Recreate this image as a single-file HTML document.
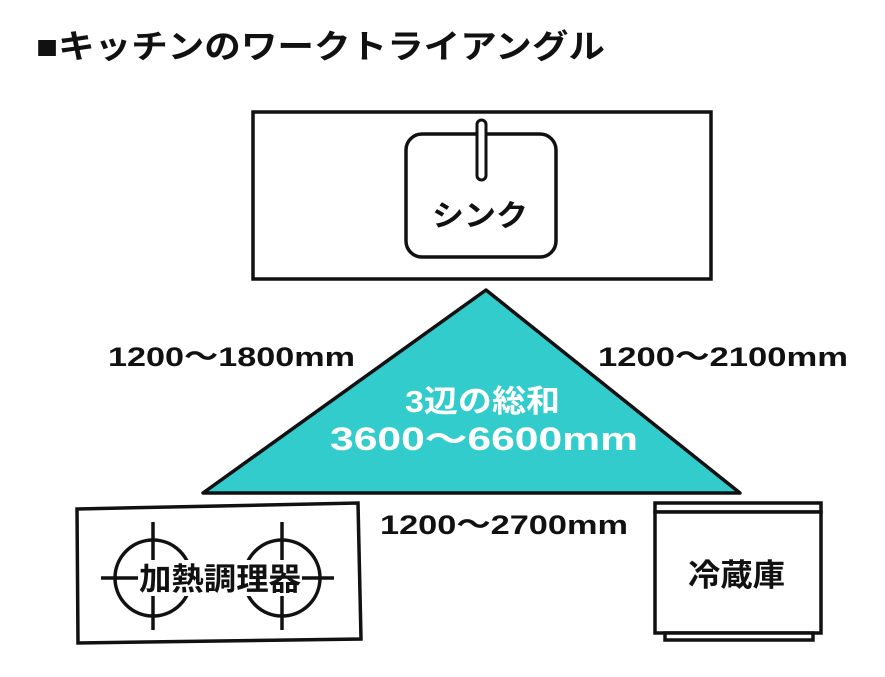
<!DOCTYPE html>
<html><head><meta charset="utf-8"><style>
body{margin:0;background:#fff;}
svg text{font-family:"Liberation Sans","Noto Sans CJK JP",sans-serif;font-weight:bold;}
</style></head><body>
<svg width="885" height="672" viewBox="0 0 885 672" xmlns="http://www.w3.org/2000/svg">
<text x="36" y="58" font-size="33" fill="#111" textLength="569" lengthAdjust="spacingAndGlyphs">■キッチンのワークトライアングル</text>
<rect x="253" y="112" width="458" height="167" fill="#fff" stroke="#111" stroke-width="3.5"/>
<rect x="406" y="134" width="150" height="123" rx="16" fill="#fff" stroke="#111" stroke-width="3.5"/>
<rect x="477" y="120" width="9" height="60" rx="4.5" fill="#fff" stroke="#111" stroke-width="3"/>
<text x="432" y="226" font-size="30" fill="#111" textLength="96" lengthAdjust="spacingAndGlyphs">シンク</text>
<polygon points="486,290 203,493 740,493" fill="#33cccc" stroke="#111" stroke-width="3.5" stroke-linejoin="round"/>
<text x="405" y="412" font-size="31" fill="#fff" textLength="155" lengthAdjust="spacingAndGlyphs">3辺の総和</text>
<text x="330" y="450" font-size="32" fill="#fff" textLength="308" lengthAdjust="spacingAndGlyphs">3600～6600mm</text>
<text x="108" y="366" font-size="27" fill="#111" textLength="247" lengthAdjust="spacingAndGlyphs">1200～1800mm</text>
<text x="598" y="366" font-size="27" fill="#111" textLength="250" lengthAdjust="spacingAndGlyphs">1200～2100mm</text>
<text x="380" y="534" font-size="27" fill="#111" textLength="248" lengthAdjust="spacingAndGlyphs">1200～2700mm</text>
<polygon points="77,509 358,503 361,639 78,643" fill="#fff" stroke="#111" stroke-width="3.5"/>
<g stroke="#111" stroke-width="3.5" fill="none">
<circle cx="153" cy="578" r="38"/><circle cx="282" cy="578" r="38"/>
<line x1="153" y1="522" x2="153" y2="630"/><line x1="101" y1="578" x2="205" y2="578"/>
<line x1="282" y1="522" x2="282" y2="630"/><line x1="230" y1="578" x2="334" y2="578"/>
</g>
<rect x="138" y="560" width="164" height="36" fill="#fff"/>
<text x="139" y="590" font-size="31" fill="#111" textLength="162" lengthAdjust="spacingAndGlyphs">加熱調理器</text>
<rect x="655" y="503" width="166" height="9" fill="#fff" stroke="#111" stroke-width="3.5"/>
<rect x="655" y="512" width="166" height="121" fill="#fff" stroke="#111" stroke-width="3.5"/>
<rect x="665" y="633" width="148" height="7" fill="#fff" stroke="#111" stroke-width="3.5"/>
<text x="688" y="586" font-size="31" fill="#111" textLength="97" lengthAdjust="spacingAndGlyphs">冷蔵庫</text>
</svg>
</body></html>
